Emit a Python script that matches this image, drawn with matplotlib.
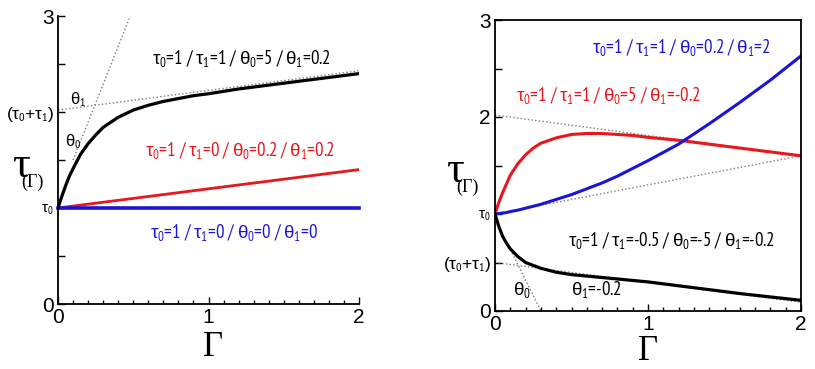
"""Two-panel plot of tau(Gamma) curves for different tau/theta parameter sets."""

import matplotlib
matplotlib.use("Agg")
import matplotlib.pyplot as plt
from matplotlib.ticker import MultipleLocator

NARROW = 'PT Sans Narrow'

plt.rcParams['font.family'] = ['Liberation Sans', 'DejaVu Sans']
plt.rcParams['mathtext.fontset'] = 'custom'
plt.rcParams['mathtext.rm'] = NARROW
plt.rcParams['mathtext.it'] = 'Liberation Sans'
plt.rcParams['mathtext.bf'] = 'Liberation Sans:bold'

# shear rate grid
gamma = [0, 0.025, 0.05, 0.075, 0.1, 0.15, 0.2, 0.25, 0.3, 0.4, 0.5,
         0.6, 0.7, 0.8, 0.9, 1.0, 1.2, 1.4, 1.6, 1.8, 2.0]

# left panel
left_black = [1.0, 1.12, 1.23, 1.33, 1.41, 1.56, 1.67, 1.76, 1.84, 1.945, 2.02,
              2.07, 2.11, 2.14, 2.17, 2.19, 2.24, 2.28, 2.32, 2.36, 2.40]
left_red_x = [0, 1, 2]
left_red = [1.0, 1.2, 1.4]
left_blue_x = [0, 2]
left_blue = [1.0, 1.0]

# right panel
right_red = [1.0, 1.12, 1.22, 1.31, 1.40, 1.52, 1.61, 1.68, 1.73, 1.785, 1.82,
             1.83, 1.83, 1.82, 1.81, 1.79, 1.76, 1.72, 1.68, 1.64, 1.60]
right_blue = [1.0, 1.005, 1.01, 1.015, 1.025, 1.04, 1.06, 1.08, 1.10, 1.15, 1.20,
              1.26, 1.32, 1.39, 1.47, 1.55, 1.72, 1.93, 2.15, 2.38, 2.63]
right_black = [1.0, 0.87, 0.77, 0.70, 0.64, 0.56, 0.50, 0.47, 0.44, 0.40, 0.375,
               0.36, 0.345, 0.33, 0.315, 0.30, 0.26, 0.22, 0.18, 0.145, 0.11]

# dotted guide lines (tangents / asymptotes)
left_guides = [([0.10, 0.48], [1.50, 3.00]),
               ([0.0, 2.0], [2.02, 2.43])]
right_guides = [([0.0, 2.0], [2.02, 1.60]),
                ([0.0, 2.0], [1.00, 1.60]),
                ([0.0, 2.0], [0.50, 0.09]),
                ([0.08, 0.30], [0.70, 0.00])]

left_ylabels = ['0', '', r'$\tau_0$', '', r'($\tau_0$+$\tau_1$)', '', '3']
right_ylabels = ['0', r'($\tau_0$+$\tau_1$)', r'$\tau_0$', '', '2', '', '3']

RED = '#e8161d'
BLUE = '#1a14d6'
GUIDE = '#7a7a7a'
W, H = 815, 369
ANN = 13.5


def style_axes(ax, ylabels, box):
    ax.set_xlim(0, 2)
    ax.set_ylim(0, 3)
    ax.set_xticks([0, 1, 2])
    ax.set_xticklabels(['0', '1', '2'], fontsize=15)
    ax.xaxis.set_minor_locator(MultipleLocator(0.1))
    ax.set_yticks([0, 0.5, 1, 1.5, 2, 2.5, 3])
    ax.set_yticklabels(ylabels, fontsize=12.5)
    for lab, txt in zip(ax.get_yticklabels(), ylabels):
        if txt in ('0', '2', '3'):
            lab.set_fontsize(15)
        elif txt == r'$\tau_0$':
            lab.set_fontsize(11)
    ax.tick_params(direction='in', length=5, width=1, pad=3)
    ax.tick_params(which='minor', direction='in', length=3, width=1)
    for s in ax.spines.values():
        s.set_linewidth(1.3)
    if not box:
        ax.spines['top'].set_visible(False)
        ax.spines['right'].set_visible(False)


def note(ax, x, y, s, color='black', size=ANN):
    ax.text(x, y, s, ha='center', va='center', fontsize=size, color=color,
            family=NARROW)


fig = plt.figure(figsize=(W / 100, H / 100), dpi=100)
ax1 = fig.add_axes([58 / W, 1 - 304 / H, 301 / W, 288 / H])
ax2 = fig.add_axes([495 / W, 1 - 311 / H, 306 / W, 291 / H])

# left panel
for gx, gy in left_guides:
    ax1.plot(gx, gy, ls=':', color=GUIDE, lw=1)
ax1.plot(left_red_x, left_red, color=RED, lw=2)
ax1.plot(left_blue_x, left_blue, color=BLUE, lw=2.6, clip_on=False)
ax1.plot(gamma, left_black, color='black', lw=2.3)
style_axes(ax1, left_ylabels, box=False)

note(ax1, 1.22, 2.56, r'$\tau_0$=1 / $\tau_1$=1 / $\theta_0$=5 / $\theta_1$=0.2')
note(ax1, 1.21, 1.60, r'$\tau_0$=1 / $\tau_1$=0 / $\theta_0$=0.2 / $\theta_1$=0.2', RED)
note(ax1, 1.17, 0.74, r'$\tau_0$=1 / $\tau_1$=0 / $\theta_0$=0 / $\theta_1$=0', BLUE)
note(ax1, 0.13, 2.13, r'$\theta_1$', size=12)
note(ax1, 0.10, 1.69, r'$\theta_0$', size=12)

# right panel
for gx, gy in right_guides:
    ax2.plot(gx, gy, ls=':', color=GUIDE, lw=1)
ax2.plot(gamma, right_red, color=RED, lw=2.2)
ax2.plot(gamma, right_blue, color=BLUE, lw=2.2)
ax2.plot(gamma, right_black, color='black', lw=2.3)
style_axes(ax2, right_ylabels, box=True)

note(ax2, 1.22, 2.72, r'$\tau_0$=1 / $\tau_1$=1 / $\theta_0$=0.2 / $\theta_1$=2', BLUE)
note(ax2, 0.74, 2.22, r'$\tau_0$=1 / $\tau_1$=1 / $\theta_0$=5 / $\theta_1$=-0.2', RED)
note(ax2, 1.155, 0.73, r'$\tau_0$=1 / $\tau_1$=-0.5 / $\theta_0$=-5 / $\theta_1$=-0.2')
note(ax2, 0.66, 0.22, r'$\theta_1$=-0.2')
note(ax2, 0.175, 0.22, r'$\theta_0$')

# axis labels, drawn as separate texts to mimic the serif glyphs
for (tx, ty), (sx, sy), (gx, gy) in [((21, 177), (32, 187), (213, 356)),
                                     ((455, 182), (467, 192), (648, 360))]:
    fig.text(tx / W, 1 - ty / H, '\u03c4', family='Liberation Serif',
             fontsize=32, ha='center', va='baseline')
    fig.text(sx / W, 1 - sy / H, '(\u0393)', family='Liberation Serif',
             fontsize=13, ha='center', va='baseline')
    fig.text(gx / W, 1 - gy / H, '\u0393', family='Liberation Serif',
             fontsize=25, ha='center', va='baseline')

plt.savefig('out.png', dpi=100)
plt.close()
